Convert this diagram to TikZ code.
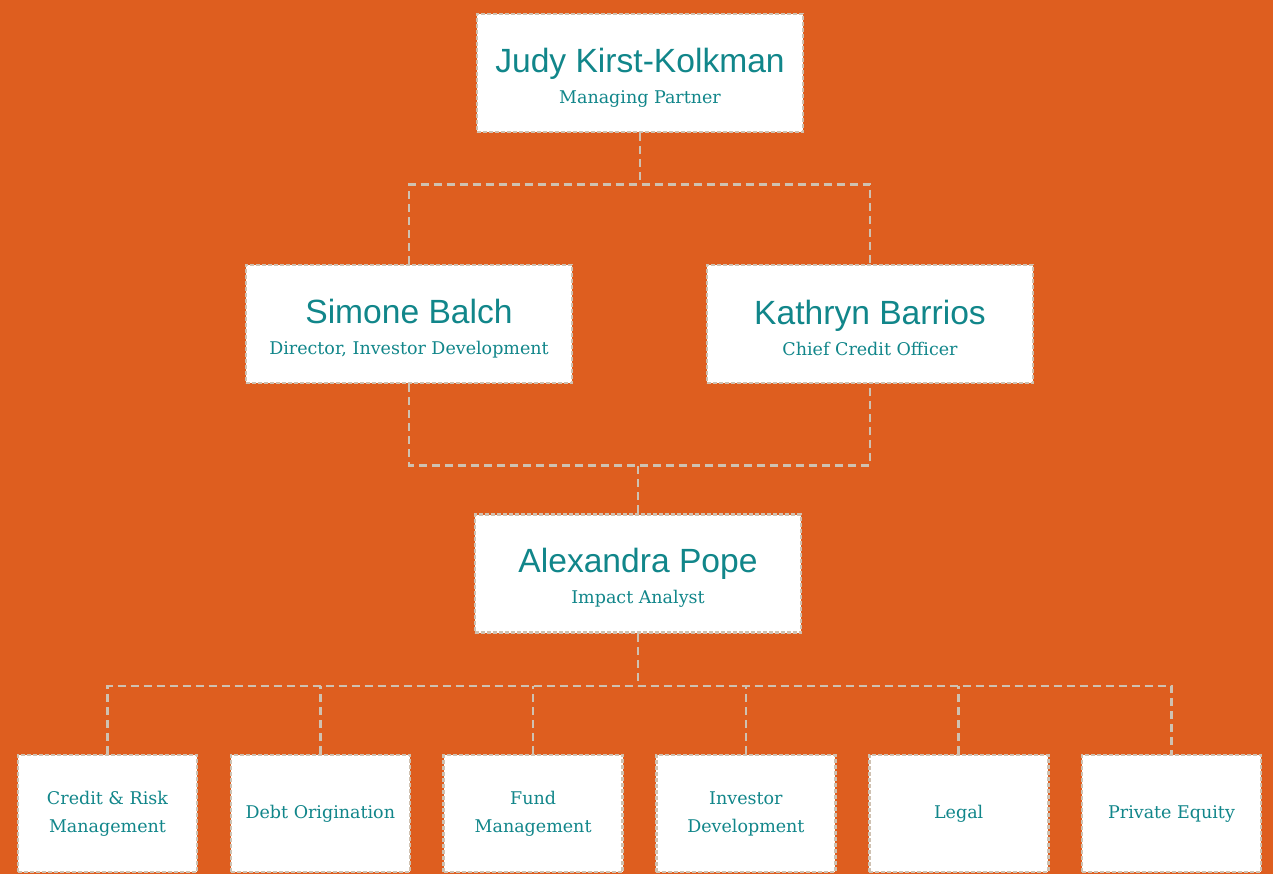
\documentclass[tikz,border=0pt]{standalone}
\usepackage{fontspec}
\usepackage{xcolor}
\usepackage{tikz}
\usetikzlibrary{positioning, calc, backgrounds}

\newfontfamily\namefont{Liberation Sans}
\newfontfamily\rolefont{DejaVu Serif}
\definecolor{bgorange}{HTML}{DE5E1F}
\definecolor{tealtext}{HTML}{11868A}
\definecolor{dashgrey}{HTML}{CFC1B1}

% name on top, role below
\newcommand{\person}[2]{{\namefont\fontsize{33.6}{36}\selectfont\rule{0pt}{33pt}#1\par}%
  {\rolefont\fontsize{17.5}{31}\selectfont #2\par}}

\begin{document}
\begin{tikzpicture}[
  node distance=31.2pt,
  personbox/.style={rectangle, draw=dashgrey, fill=white, line width=2.6pt,
                    dash pattern=on 4pt off 2pt, minimum width=326pt, minimum height=118pt,
                    text width=320pt, align=flush center, text=tealtext, inner sep=0pt},
  deptbox/.style={rectangle, draw=dashgrey, fill=white, line width=2.6pt,
                  dash pattern=on 4pt off 2pt, minimum width=179pt, minimum height=117pt,
                  text width=170pt, align=flush center, text=tealtext, inner sep=0pt,
                  font=\rolefont\fontsize{17.5}{28}\selectfont},
  link/.style={draw=dashgrey, line width=2.6pt, dash pattern=on 8pt off 5pt},
]
  \node[personbox] (judy) at (640pt,-73pt) {\person{Judy Kirst-Kolkman}{Managing Partner}};
  \node[personbox] (simone) at (409pt,-324pt) {\person{Simone Balch}{Director, Investor Development}};
  \node[personbox] (kathryn) at (870pt,-324pt) {\person{Kathryn Barrios}{Chief Credit Officer}};
  \node[personbox] (alexandra) at (638pt,-573.5pt) {\person{Alexandra Pope}{Impact Analyst}};

  \node[deptbox] (credit) at (107.5pt,-813.5pt) {Credit \& Risk\\Management};
  \node[deptbox, right=of credit] (debt) {Debt Origination};
  \node[deptbox, right=of debt] (fund) {Fund\\Management};
  \node[deptbox, right=of fund] (investor) {Investor\\Development};
  \node[deptbox, right=of investor] (legal) {Legal};
  \node[deptbox, right=of legal] (equity) {Private Equity};

  \begin{scope}[on background layer]
    \fill[bgorange] (0,0) rectangle (1273pt,-874pt);
    \draw[link] (judy.south) -- ++(0,-51pt) coordinate (jsplit);
    \draw[link] (simone.north) |- (jsplit) -| (kathryn.north);
    \draw[link] (simone.south) -- ++(0,-81pt) -| (kathryn.south);
    \draw[link] (alexandra.north) -- ++(0,51pt);
    \draw[link] (alexandra.south) -- ++(0,-52pt) coordinate (asplit);
    \draw[link] (credit.north) |- (asplit) -| (equity.north);
    \foreach \d in {debt, fund, investor, legal}
      \draw[link] (\d.north) -- (\d.north |- asplit);
  \end{scope}
  \useasboundingbox (0,0) rectangle (1273pt,-874pt);
\end{tikzpicture}
\end{document}
